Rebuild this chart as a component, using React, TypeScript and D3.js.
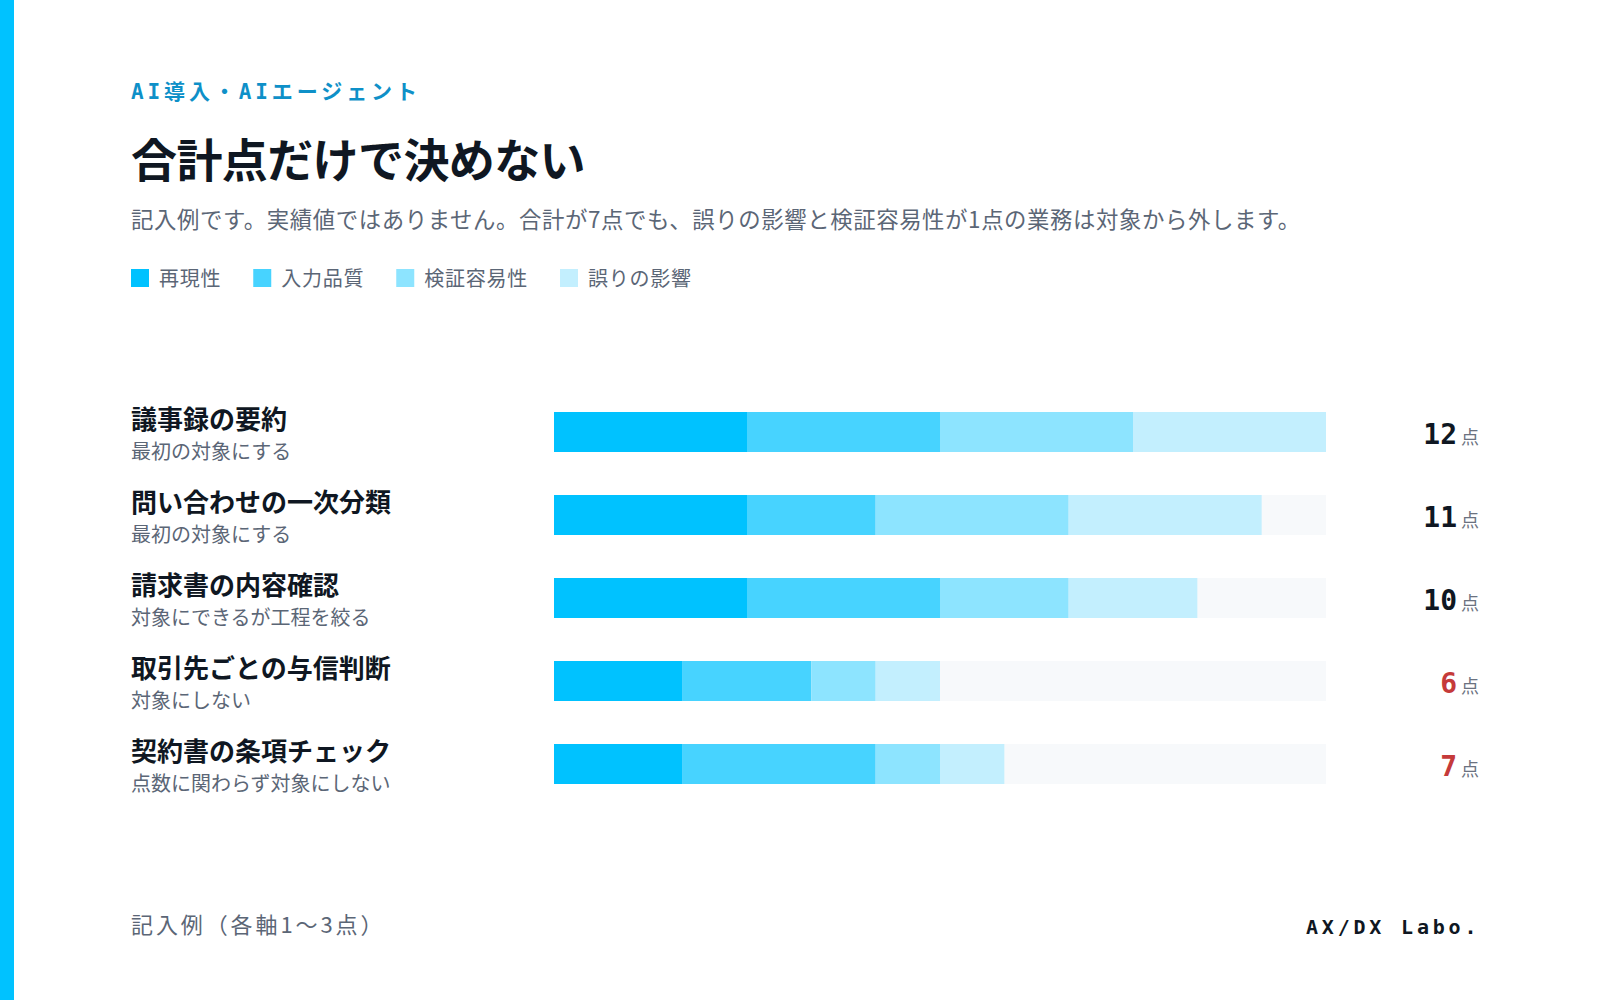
import React from "react";
import * as d3 from "d3";

// ---- data ----
const categories = [
  "議事録の要約",
  "問い合わせの一次分類",
  "請求書の内容確認",
  "取引先ごとの与信判断",
  "契約書の条項チェック",
];
const verdicts = [
  "最初の対象にする",
  "最初の対象にする",
  "対象にできるが工程を絞る",
  "対象にしない",
  "点数に関わらず対象にしない",
];
const seriesNames = ["再現性", "入力品質", "検証容易性", "誤りの影響"];
const reproducibility = [3, 3, 3, 2, 2];
const inputQuality = [3, 2, 3, 2, 3];
const verifiability = [3, 3, 2, 1, 1];
const errorImpact = [3, 3, 2, 1, 1];
const flagged = [false, false, false, true, true];
const maxScore = 12;

const kicker = "AI導入・AIエージェント";
const title = "合計点だけで決めない";
const subtitle =
  "記入例です。実績値ではありません。合計が7点でも、誤りの影響と検証容易性が1点の業務は対象から外します。";
const footNote = "記入例（各軸1〜3点）";
const brand = "AX/DX Labo.";
const unitLabel = "点";

// ---- style ----
const W = 1600;
const H = 1000;
const JP = "'Noto Sans CJK JP', 'Noto Sans', sans-serif";
const MONO = "'DejaVu Sans Mono', 'Liberation Mono', 'Noto Sans CJK JP', monospace";
const colors = ["#00c2ff", "#47d3ff", "#8de4ff", "#c3effe"];
const trackColor = "#f7f9fb";
const ink = "#0f1722";
const gray = "#5b6676";
const red = "#c53a3a";
const accent = "#0e90c8";

const LEFT = 131;

export default function App() {
  const table = categories.map((c, i) => ({
    name: c,
    [seriesNames[0]]: reproducibility[i],
    [seriesNames[1]]: inputQuality[i],
    [seriesNames[2]]: verifiability[i],
    [seriesNames[3]]: errorImpact[i],
  }));
  const stacked = d3.stack<any>().keys(seriesNames)(table);
  const totals = categories.map(
    (_, i) => reproducibility[i] + inputQuality[i] + verifiability[i] + errorImpact[i]
  );

  const x = d3.scaleLinear().domain([0, maxScore]).range([554, 1326]);
  const y = d3.scalePoint<string>().domain(categories).range([412, 744]);
  const barH = 40;

  // legend layout
  const legendFont = 20;
  const legendLs = 0.75;
  const sq = 18;
  let lx = LEFT;
  const legendItems = seriesNames.map((s, i) => {
    const item = { s, i, x: lx };
    lx += sq + 10 + s.length * (legendFont + legendLs) + 32;
    return item;
  });

  return (
    <svg
      width={W}
      height={H}
      style={{ position: "absolute", left: 0, top: 0, display: "block", background: "#fff" }}
    >
      <rect x={0} y={0} width={W} height={H} fill="#ffffff" />
      <rect x={0} y={0} width={14} height={H} fill="#00c2ff" />

      <text
        x={LEFT}
        y={99}
        fontFamily={MONO}
        fontWeight={700}
        fontSize={21}
        letterSpacing={3.9}
        fill={accent}
      >
        {kicker}
      </text>
      <text
        x={LEFT}
        y={177}
        fontFamily={JP}
        fontWeight={700}
        fontSize={46}
        letterSpacing={-0.6}
        fill={ink}
      >
        {title}
      </text>
      <text x={LEFT} y={228} fontFamily={JP} fontSize={22.4} letterSpacing={0.6} fill={gray}>
        {subtitle}
      </text>

      {legendItems.map((d) => (
        <g key={d.s}>
          <rect x={d.x} y={269} width={sq} height={sq} fill={colors[d.i]} />
          <text
            x={d.x + sq + 10}
            y={286}
            fontFamily={JP}
            fontSize={legendFont}
            letterSpacing={legendLs}
            fill={gray}
          >
            {d.s}
          </text>
        </g>
      ))}

      {categories.map((c, i) => {
        const top = y(c)!;
        return (
          <g key={c}>
            <text x={LEFT} y={top + 16.5} fontFamily={JP} fontWeight={700} fontSize={26} fill={ink}>
              {c}
            </text>
            <text x={LEFT} y={top + 47} fontFamily={JP} fontSize={20} fill={gray}>
              {verdicts[i]}
            </text>
            <rect
              x={x(0)}
              y={top}
              width={x(maxScore) - x(0)}
              height={barH}
              fill={trackColor}
            />
            {stacked.map((layer, k) => {
              const seg = layer[i];
              const w = x(seg[1]) - x(seg[0]);
              if (w <= 0) return null;
              return (
                <rect
                  key={k}
                  x={x(seg[0])}
                  y={top}
                  width={w}
                  height={barH}
                  fill={colors[k]}
                />
              );
            })}
            <text x={1479} y={top + 32} textAnchor="end">
              <tspan
                fontFamily={MONO}
                fontWeight={700}
                fontSize={28}
                fill={flagged[i] ? red : ink}
              >
                {totals[i]}
              </tspan>
              <tspan dx={4} fontFamily={JP} fontSize={18} fill="#6b7280">
                {unitLabel}
              </tspan>
            </text>
          </g>
        );
      })}

      <text x={LEFT} y={933} fontFamily={JP} fontSize={22} letterSpacing={2.9} fill={gray}>
        {footNote}
      </text>
      <text
        x={1306}
        y={934}
        fontFamily={MONO}
        fontWeight={700}
        fontSize={20}
        letterSpacing={3.8}
        fill={ink}
      >
        {brand}
      </text>
    </svg>
  );
}
